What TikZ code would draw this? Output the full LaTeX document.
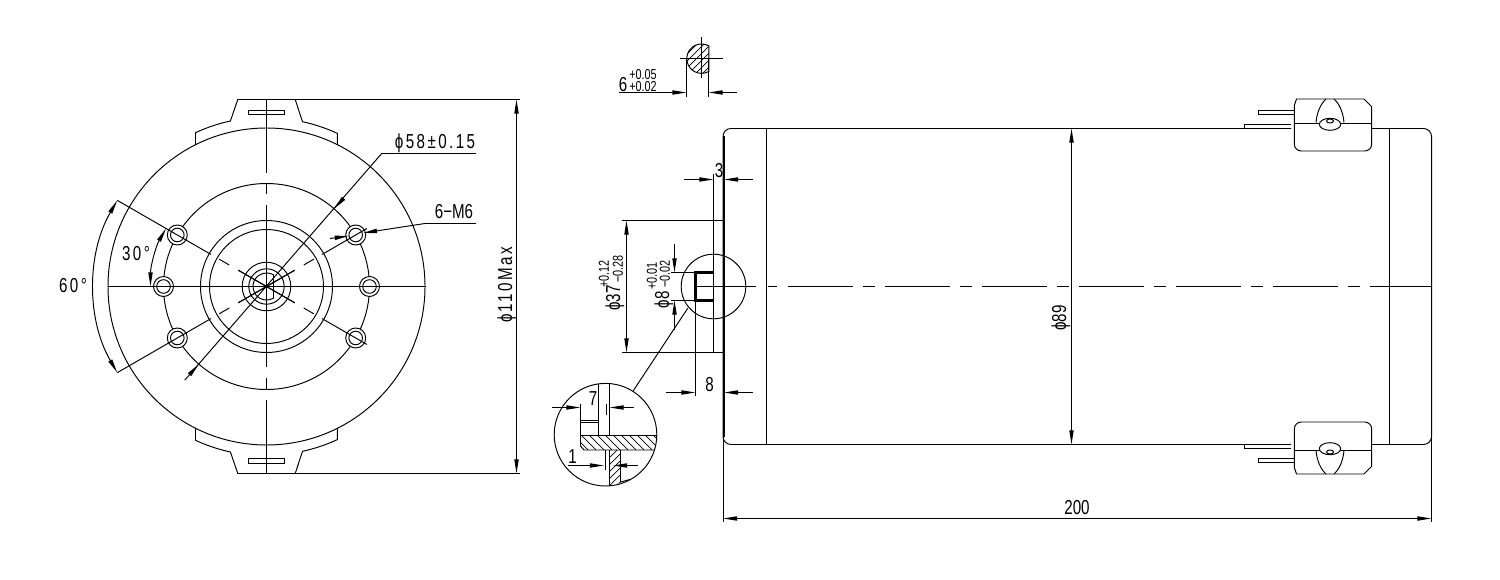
\documentclass[tikz,border=0pt]{standalone}
\usepackage{fontspec}
\setmainfont[FakeStretch=0.75]{Liberation Sans}
\usetikzlibrary{calc, arrows.meta}
\tikzstyle{line} = [line width=0.55pt]
\tikzstyle{heavy} = [line width=0.9pt]
\tikzstyle{shaft} = [line width=1.4pt]
\tikzstyle{hatch} = [line width=0.4pt]
\tikzstyle{arrow} = [line,-{Triangle[length=8pt,width=2.4pt]}]
\tikzstyle{bothways} = [line,{Triangle[length=8pt,width=2.4pt]}-{Triangle[length=8pt,width=2.4pt]}]
\tikzstyle{dimtext} = [inner sep=0pt,font=\fontsize{11.5}{13}\selectfont]
\tikzstyle{widetext} = [inner sep=0pt,font=\fontsize{11.5}{13}\selectfont\addfontfeature{LetterSpace=12}]
\tikzstyle{toltext} = [inner sep=0pt,font=\fontsize{8.2}{9}\selectfont]
\tikzstyle{centreline} = [line,dash pattern=on 37.4pt off 5.4pt on 6.8pt off 5.6pt]

\begin{document}
\begin{tikzpicture}[x=0.2mm,y=-0.2mm]
	\useasboundingbox (0,0) rectangle (1500,580);
	
	\coordinate (front) at (266.5,286.5);
	\coordinate (key) at (701.5,58.7);
	\coordinate (loupe) at (713.5,286.5);
	\coordinate (detail) at (605.5,434.7);
	
	\newcommand{\LUG}[1]{\begin{scope}[shift={(front)},yscale=#1]
		\draw[line] (-71,-141.5) -- (-71,-153.8) arc[start angle=245.2,end angle=257.7,radius=169] -- (-28.7,-187) -- (28.7,-187) -- (36,-164.8) arc[start angle=282.3,end angle=294.8,radius=169] -- (71,-141.5);
		\draw[line] (-17.7,-176.5) rectangle (18,-172.2);
	\end{scope}}
	\newcommand{\TERMINAL}[1]{\begin{scope}[shift={(0,286.5)},yscale=#1]
		\draw[line] (1296.5,-187.5) -- (1364,-187.5) -- (1371.7,-179.8) -- (1371.7,-142.5) arc[start angle=0,end angle=90,radius=7] -- (1301.3,-135.5) arc[start angle=90,end angle=180,radius=7] -- (1294.3,-181) -- cycle;
		\draw[line] (1294.3,-163.5) -- (1371.7,-163.5);
		\draw[line,fill=white] (1330,-162.2) ellipse [x radius=10.7,y radius=6];
		\draw[line] (1330,-165.5) ellipse [x radius=3.5,y radius=2];
		\draw[line] (1316,-164) .. controls (1317,-175) and (1321,-183) .. (1326,-187.5);
		\draw[line] (1344,-164) .. controls (1343,-175) and (1339,-183) .. (1334,-187.5);
		\draw[line] (1294.3,-176.2) -- (1258.3,-176.2) -- (1258.3,-172.2) -- (1294.3,-172.2);
		\draw[line] (1291,-158.2) -- (1244.3,-158.2) -- (1244.3,-162.2) -- (1291,-162.2);
	\end{scope}}
	
	% front view
	\foreach \r in {158.5,103,66,57,24.3,17.7}
		\draw[line] (front) circle [radius=\r];
	\begin{scope}[shift={(front)}]
		\draw[line] (7,-11.6) arc[start angle=-58.9,end angle=-301.1,radius=13.55] -- cycle;
		\foreach \a in {0,30,150,180,210,330} {
			\draw[line,fill=white] (\a:103) circle [radius=10];
			\draw[line] (\a:103) circle [radius=6.8];
		}
		\foreach \a in {30,150,210,330} {
			\draw[line] (\a:-32.6) -- (\a:32.6);
			\draw[line] (\a:43) -- (\a:54.6);
		}
		\draw[line] (30:64) -- (30:116);
		\draw[line] (330:64) -- (330:116);
		\draw[line] (150:64) -- (150:172.3);
		\draw[line] (210:64) -- (210:172.3);
	\end{scope}
	\LUG{1}
	\LUG{-1}
	
	\draw[line] ($ (front) + (-159,0) $) -- ($ (front) + (159,0) $);
	\draw[line] (266.5,99.5) -- (266.5,172.7);
	\draw[line] (266.5,184) -- (266.5,194);
	\draw[line] (266.5,205) -- (266.5,367.5);
	\draw[line] (266.5,378) -- (266.5,389);
	\draw[line] (266.5,400) -- (266.5,473.5);
	
	\draw[line] (294,99.5) -- (520,99.5);
	\draw[line] (269,473.5) -- (520,473.5);
	\draw[bothways] (516.5,99.5) -- (516.5,473.5);
	\node[widetext,rotate=90] (lblOuter) at (507,285) {ϕ110Max};
	
	\begin{scope}[shift={(front)}]
		\draw[bothways] (210:116) arc[start angle=210,end angle=180,radius=116];
		\draw[bothways] (210:172.3) arc[start angle=210,end angle=150,radius=172.3];
	\end{scope}
	\node[widetext] (lblThirty) at (136,253.5) {30°};
	\node[widetext] (lblSixty) at (73,286) {60°};
	
	\coordinate (pitchA) at ($ (front) + (-81.7,93.6) $);
	\coordinate (pitchB) at (381.7,153.5);
	\draw[line] (pitchA) -- (pitchB) -- (476,153.5);
	\draw[arrow] ($ (front) + (-76,87) $) -- ($ (front) + (-67.6,77.7) $);
	\draw[arrow] ($ (front) + (76,-87) $) -- ($ (front) + (67.6,-77.7) $);
	\node[widetext] (lblPitch) at (435,143) {ϕ58±0.15};
	
	\draw[arrow] (330,238.5) -- (348.7,236);
	\draw[arrow] (476,223.5) -- (425,223.5) -- (363,233);
	\node[dimtext] (lblHoles) at (454,212) {6−M6};
	
	% key section
	\begin{scope}
		\clip ($ (key) + (7.3,-12.76) $) arc[start angle=-60.2,end angle=-299.8,radius=14.7] -- cycle;
		\foreach \h in {-40,-33,...,40}
			\draw[hatch] ($ (key) + (\h-20,20) $) -- ($ (key) + (\h+20,-20) $);
	\end{scope}
	\draw[line] ($ (key) + (7.3,-12.76) $) arc[start angle=-60.2,end angle=-299.8,radius=14.7] -- cycle;
	\draw[line] (701.5,37.3) -- (701.5,78.3);
	\draw[line] (680,58.5) -- (723.3,58.5);
	\draw[line] (686.5,58.5) -- (686.5,96.7);
	\draw[line] (708.5,58.5) -- (708.5,96.7);
	\draw[arrow] (619.3,92.5) -- (686.5,92.5);
	\draw[arrow] (736.7,92.5) -- (708.5,92.5);
	\node[dimtext] (lblKey) at (623,84.5) {6};
	\node[toltext,anchor=west] (lblKeyUp) at (629,74.3) {+0.05};
	\node[toltext,anchor=west] (lblKeyLo) at (629,87) {+0.02};
	
	% side view
	\draw[line] (1291,128.5) -- (731,128.5) arc[start angle=270,end angle=180,radius=8] -- (723,436.5) arc[start angle=180,end angle=90,radius=8] -- (1291,444.5);
	\draw[heavy] (777.5,128.5) -- (1134.6,128.5);
	\draw[heavy] (777.5,444.5) -- (1134.6,444.5);
	\draw[line] (1371.7,128.5) -- (1423.5,128.5) arc[start angle=270,end angle=360,radius=8] -- (1431.5,436.5) arc[start angle=0,end angle=90,radius=8] -- (1371.7,444.5);
	\draw[line] (766.5,128.5) -- (766.5,444.5);
	\draw[line] (1389.5,128.5) -- (1389.5,444.5);
	\TERMINAL{1}
	\TERMINAL{-1}
	
	\draw[centreline] (787.5,286.5) -- (1431.5,286.5);
	\draw[line] (695.5,286.5) -- (756,286.5);
	\draw[line] (767.8,286.5) -- (777,286.5);
	
	\draw[bothways] (1071.5,128.5) -- (1071.5,444.5);
	\node[dimtext,rotate=90] (lblBody) at (1061,318) {ϕ89};
	
	\draw[line] (723,436.5) -- (723,522);
	\draw[line] (1431.5,436.5) -- (1431.5,522);
	\draw[bothways] (723,518.5) -- (1431.5,518.5);
	\node[dimtext] (lblLength) at (1077,508) {200};
	
	% flange and shaft
	\draw[heavy] (724,136) -- (724,437);
	\draw[line] (713.5,174) -- (713.5,352.5);
	\draw[line] (622,220.5) -- (724,220.5);
	\draw[line] (622,352.5) -- (724,352.5);
	\draw[line] (671,272.5) -- (695.5,272.5);
	\draw[line] (671,300.5) -- (695.5,300.5);
	\draw[line] (695.5,300.5) -- (695.5,396);
	\draw[shaft] (713.5,272.5) -- (695.5,272.5) -- (695.5,300.5) -- (713.5,300.5);
	\draw[line] (loupe) circle [radius=32.3];
	\coordinate (leadA) at (687.7,308.3);
	\coordinate (leadB) at (633.3,390.7);
	\draw[line] (leadA) -- (leadB);
	
	\draw[arrow] (684,179.5) -- (713.5,179.5);
	\draw[arrow] (753,179.5) -- (724,179.5);
	\node[dimtext] (lblThree) at (719,171) {3};
	
	\draw[bothways] (626.5,220.5) -- (626.5,352.5);
	\node[dimtext,rotate=90] (lblFlange) at (615,298) {ϕ37};
	\node[toltext,rotate=90,anchor=west] (lblFlangeUp) at (604,288) {+0.12};
	\node[toltext,rotate=90,anchor=west] (lblFlangeLo) at (618,283) {−0.28};
	
	\draw[line] (674.5,244) -- (674.5,260);
	\draw[arrow] (674.5,258) -- (674.5,272.5);
	\draw[arrow] (674.5,330) -- (674.5,300.5);
	\node[dimtext,rotate=90] (lblShaft) at (664,300) {ϕ8};
	\node[toltext,rotate=90,anchor=west] (lblShaftUp) at (652,290) {+0.01};
	\node[toltext,rotate=90,anchor=west] (lblShaftLo) at (665,288) {−0.02};
	
	\draw[arrow] (666,392.5) -- (695.5,392.5);
	\draw[arrow] (753,392.5) -- (724,392.5);
	\node[dimtext] (lblEight) at (709.5,385) {8};
	
	% detail circle
	\begin{scope}
		\clip (detail) circle [radius=51.3];
		\begin{scope}
			\clip (580.5,435) -- (660,435) -- (660,450) -- (584,450) -- (580.5,446) -- cycle;
			\foreach \x in {565,573,...,660}
				\draw[hatch] (\x,435) -- (\x+15,450);
		\end{scope}
		\begin{scope}
			\clip (609.5,450) -- (620.5,450) -- (620.5,482) -- (609.5,490) -- cycle;
			\foreach \x in {570,577,...,620}
				\draw[hatch] (\x,490) -- (\x+40,450);
		\end{scope}
		\draw[line] (580.5,435) -- (660,435);
		\draw[line] (660,450) -- (584,450) -- (580.5,446) -- (580.5,435);
		\draw[line] (598.5,380) -- (598.5,435);
		\draw[line] (609.5,380) -- (609.5,435);
		\draw[line] (609.5,450) -- (609.5,490);
		\draw[line] (620.5,450) -- (620.5,482) -- (630,479.5);
	\end{scope}
	\draw[line] (detail) circle [radius=51.3];
	\draw[line] (580.5,420.5) rectangle (598.5,422.5);
	\draw[line] (580.5,404) -- (580.5,435);
	\draw[line] (606.5,404) -- (606.5,415);
	\draw[line] (605.5,450) -- (605.5,470);
	\draw[arrow] (551.7,407.5) -- (580.5,407.5);
	\draw[arrow] (634.3,407.5) -- (609.5,407.5);
	\node[dimtext] (lblSeven) at (593,398.5) {7};
	\draw[arrow] (568,465.5) -- (604,465.5);
	\draw[arrow] (638,465.5) -- (613,465.5);
	\node[dimtext] (lblOne) at (572.7,456.5) {1};
\end{tikzpicture}
\end{document}
